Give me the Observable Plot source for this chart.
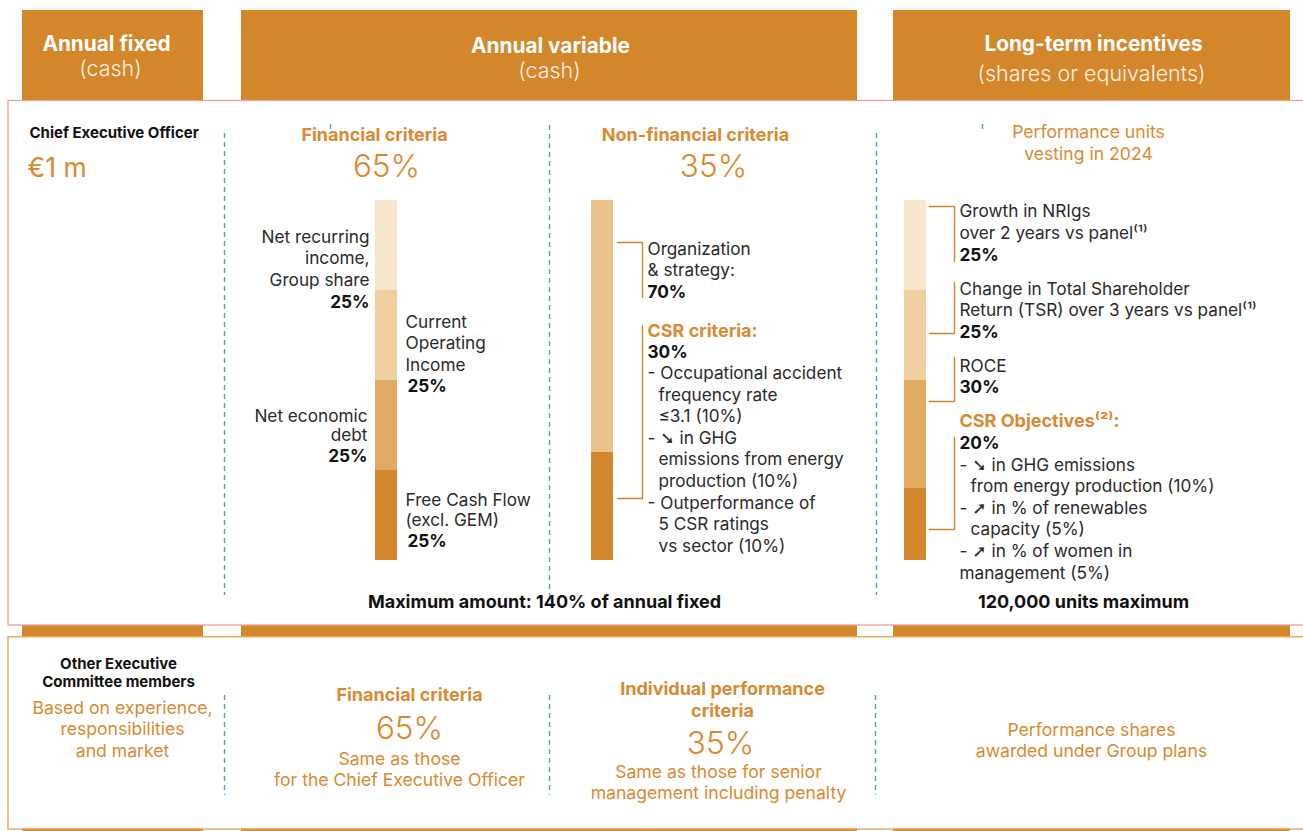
<!DOCTYPE html>
<html><head><meta charset="utf-8">
<script src="https://cdn.jsdelivr.net/npm/d3@7"></script>
<script src="https://cdn.jsdelivr.net/npm/@observablehq/plot@0.6"></script>
<style>
html,body{margin:0;padding:0;background:#fff;}
#wrap{position:relative;width:1303px;height:831px;overflow:hidden;}
#wrap > svg{position:absolute;left:0;top:0;}
#wrap > .bar{position:absolute;}
</style></head><body><div id="wrap"></div>
<script>
// ---------------- data ----------------
const columns = ["Annual fixed", "Annual variable", "Long-term incentives"];
const columnSubtitles = ["(cash)", "(cash)", "(shares or equivalents)"];

const ceoTitle = "Chief Executive Officer";
const ceoFixed = "€1 m";
const othersTitle = "Other Executive\nCommittee members";
const othersFixed = "Based on experience,\nresponsibilities\nand market";

const finTitle = "Financial criteria";
const finShare = "65%";
const finCriteria = ["Net recurring\nincome,\nGroup share", "Current\nOperating\nIncome", "Net economic\ndebt", "Free Cash Flow\n(excl. GEM)"];
const finWeights = [25, 25, 25, 25];

const nonFinTitle = "Non-financial criteria";
const nonFinShare = "35%";
const nonFinCriteria = ["Organization\n& strategy:", "CSR criteria:"];
const nonFinWeights = [70, 30];
const csrCriteria = ["Occupational accident\nfrequency rate\n≤3.1 (10%)", "➘ in GHG\nemissions from energy\nproduction (10%)", "Outperformance of\n5 CSR ratings\nvs sector (10%)"];
const variableMax = "Maximum amount: 140% of annual fixed";

const ltiTitle = "Performance units\nvesting in 2024";
const ltiCriteria = ["Growth in NRIgs\nover 2 years vs panel⁽¹⁾", "Change in Total Shareholder\nReturn (TSR) over 3 years vs panel⁽¹⁾", "ROCE", "CSR Objectives⁽²⁾:"];
const ltiWeights = [25, 25, 30, 20];
const ltiCsr = ["➘ in GHG emissions\nfrom energy production (10%)", "➚ in % of renewables\ncapacity (5%)", "➚ in % of women in\nmanagement (5%)"];
const ltiMax = "120,000 units maximum";

const othersFin = ["Financial criteria", "65%", "Same as those\nfor the Chief Executive Officer"];
const othersInd = ["Individual performance\ncriteria", "35%", "Same as those for senior\nmanagement including penalty"];
const othersLti = "Performance shares\nawarded under Group plans";

// ---------------- style ----------------
const ORANGE = "#D4862A", OTXT = "#D98A30", DARK = "#2a2a2a", BLACK = "#111";
const shades4 = ["#F6E6CB", "#EFCFA0", "#E1AB63", "#D4862A"];
const shades2 = ["#E9C38B", "#D4862A"];
const FONT = 'Inter, "DejaVu Sans", sans-serif';
const W = 1303, H = 831;

const styles = {
  hdrB: {fontSize: 20.8, fontWeight: 700, fill: "#fff"},
  hdrL: {fontSize: 21.5, fontWeight: 300, fill: "#fdf3e6"},
  body: {fontSize: 17.2, fontWeight: 400, fill: DARK},
  bodyB: {fontSize: 17.2, fontWeight: 700, fill: BLACK},
  orgB: {fontSize: 18, fontWeight: 700, fill: OTXT},
  org: {fontSize: 17.6, fontWeight: 400, fill: OTXT},
  big: {fontSize: 31.5, fontWeight: 300, fill: OTXT},
  eur: {fontSize: 26.5, fontWeight: 400, fill: OTXT},
  small: {fontSize: 15, fontWeight: 700, fill: BLACK},
  max: {fontSize: 18, fontWeight: 700, fill: BLACK}
};

const items = [];
function put(x, y, text, s, anchor = "start", lh = 21.6) {
  String(text).split("\n").forEach((t, i) => {
    items.push({x, y: y + i * lh, t, s, a: anchor});
  });
}

// headers
put(106, 50, columns[0], "hdrB", "middle");
put(110, 75.5, columnSubtitles[0], "hdrL", "middle");
put(550, 52, columns[1], "hdrB", "middle");
put(549, 77.5, columnSubtitles[1], "hdrL", "middle");
put(1093, 50, columns[2], "hdrB", "middle");
put(1091, 80, columnSubtitles[2], "hdrL", "middle");

// CEO row
put(29, 137, ceoTitle, "small");
put(27, 176, ceoFixed, "eur");
put(374, 140, finTitle, "orgB", "middle");
put(386, 176, finShare, "big", "middle");
put(695, 140, nonFinTitle, "orgB", "middle");
put(713, 176, nonFinShare, "big", "middle");
put(1088, 137, ltiTitle, "org", "middle", 22);

// financial labels
put(369, 242, finCriteria[0], "body", "end", 21.5);
put(369, 307, finWeights[0] + "%", "bodyB", "end");
put(405, 327.5, finCriteria[1], "body", "start", 21.3);
put(407, 391, finWeights[1] + "%", "bodyB");
put(367, 421, finCriteria[2], "body", "end", 19);
put(367, 461, finWeights[2] + "%", "bodyB", "end");
put(405, 505, finCriteria[3], "body", "start", 20.8);
put(407, 546, finWeights[3] + "%", "bodyB");

// non-financial labels
put(647, 254, nonFinCriteria[0], "body", "start", 21.5);
put(647, 297, nonFinWeights[0] + "%", "bodyB");
put(647, 336.5, nonFinCriteria[1], "orgB");
put(647, 357, nonFinWeights[1] + "%", "bodyB");
csrCriteria.forEach((c, i) => {
  const lines = c.split("\n");
  put(647, 378.5 + i * 64.8, "- " + lines[0], "body");
  put(658, 400.1 + i * 64.8, lines.slice(1).join("\n"), "body");
});
put(544, 607, variableMax, "max", "middle");

// LTI labels
put(959, 216.5, ltiCriteria[0], "body");
put(959, 260, ltiWeights[0] + "%", "bodyB");
put(959, 294, ltiCriteria[1], "body");
put(959, 337, ltiWeights[1] + "%", "bodyB");
put(959, 371, ltiCriteria[2], "body");
put(959, 392.5, ltiWeights[2] + "%", "bodyB");
put(959, 426.5, ltiCriteria[3], "orgB");
put(959, 448, ltiWeights[3] + "%", "bodyB");
const ltiIndent = [970, 970, 959];
ltiCsr.forEach((c, i) => {
  const lines = c.split("\n");
  put(959, 470 + i * 43.2, "- " + lines[0], "body");
  put(ltiIndent[i], 491.6 + i * 43.2, lines[1], "body");
});
put(1083, 607, ltiMax, "max", "middle");

// Other executives row
put(118, 668, othersTitle, "small", "middle", 18.3);
put(122, 713, othersFixed, "org", "middle", 21.7);
put(409, 700, othersFin[0], "orgB", "middle");
put(409, 738, othersFin[1], "big", "middle");
put(399, 764, othersFin[2], "org", "middle", 21.3);
put(722, 694.5, othersInd[0], "orgB", "middle", 21.5);
put(720, 753, othersInd[1], "big", "middle");
put(718, 777, othersInd[2], "org", "middle", 21.3);
put(1091, 735, othersLti, "org", "middle", 21.3);

// ---------------- layout geometry ----------------
const headerCols = [[22, 203], [241, 857], [893, 1290]];
const headerRects = headerCols.map(([a, b]) => ({x1: a, x2: b, y1: 10, y2: 100}));
const stripRects = headerCols.flatMap(([a, b]) => [{x1: a, x2: b, y1: 625, y2: 637}, {x1: a, x2: b, y1: 828.5, y2: 831}]);
const dashes = [
  {x: 224, y1: 133, y2: 595}, {x: 549, y1: 125, y2: 595}, {x: 876, y1: 133, y2: 595},
  {x: 330, y1: 124, y2: 130}, {x: 982, y1: 124, y2: 130},
  {x: 224, y1: 695, y2: 795}, {x: 549, y1: 695, y2: 795}, {x: 875, y1: 695, y2: 795}
];
const brackets = [
  [[617, 242], [642, 242], [642, 297]],
  [[642, 325], [642, 498], [617, 498]],
  [[929, 206], [954, 206], [954, 261]],
  [[954, 282], [954, 333], [929, 333]],
  [[954, 357], [954, 401], [929, 401]],
  [[954, 437], [954, 529], [929, 529]]
].flatMap((pts, k) => pts.map(([x, y]) => ({x, y, k})));

const marks = [
  Plot.rect(headerRects, {x1: "x1", x2: "x2", y1: "y1", y2: "y2", fill: ORANGE}),
  Plot.rect(stripRects, {x1: "x1", x2: "x2", y1: "y1", y2: "y2", fill: ORANGE}),
  Plot.rect([{x1: 8, x2: 1330, y1: 100.5, y2: 625}], {x1: "x1", x2: "x2", y1: "y1", y2: "y2", fill: "none", stroke: "#E8A29A", strokeWidth: 1.3}),
  Plot.rect([{x1: 8, x2: 1330, y1: 636.8, y2: 829}], {x1: "x1", x2: "x2", y1: "y1", y2: "y2", fill: "none", stroke: "#E6AE62", strokeWidth: 1.5}),
  Plot.ruleX(dashes, {x: "x", y1: "y1", y2: "y2", stroke: "#4F9FCD", strokeWidth: 1.4, strokeDasharray: "5,4"}),
  Plot.line(brackets, {x: "x", y: "y", z: "k", stroke: ORANGE, strokeWidth: 1.4, strokeLinejoin: "miter", curve: "linear"})
];
items.forEach(d => {
  const st = styles[d.s];
  marks.push(Plot.text([d], {x: "x", y: "y", text: "t", textAnchor: d.a, lineAnchor: "bottom",
    fontSize: st.fontSize, fontWeight: st.fontWeight, fill: st.fill}));
});

const wrap = document.getElementById("wrap");
const main = Plot.plot({
  width: W, height: H, margin: 0,
  x: {domain: [0, W], range: [0, W], axis: null},
  y: {domain: [0, H], range: [0, H], axis: null},
  style: {fontFamily: FONT, background: "transparent", overflow: "visible"},
  marks
});
wrap.appendChild(main);

// ---------------- stacked bars ----------------
function stackBar(names, weights, colors, left, top) {
  const data = names.map((n, i) => ({col: "c", name: n, w: weights[i]}));
  const p = Plot.plot({
    width: 22, height: 360, margin: 0,
    x: {type: "band", domain: ["c"], padding: 0, axis: null},
    y: {domain: [0, d3.sum(weights)], range: [0, 360], axis: null},
    color: {domain: names, range: colors},
    style: {background: "transparent"},
    marks: [Plot.barY(data, {x: "col", y: "w", fill: "name"})]
  });
  const d = document.createElement("div");
  d.className = "bar";
  d.style.left = left + "px";
  d.style.top = top + "px";
  d.appendChild(p);
  wrap.appendChild(d);
}
stackBar(finCriteria, finWeights, shades4, 375, 200);
stackBar(nonFinCriteria, nonFinWeights, shades2, 591, 200);
stackBar(ltiCriteria, ltiWeights, shades4, 904, 200);
</script></body></html>
